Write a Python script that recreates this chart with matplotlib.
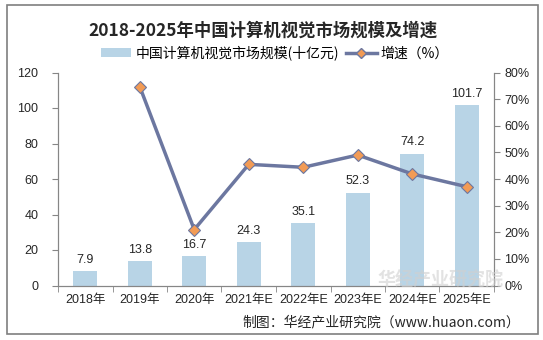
import matplotlib.pyplot as plt
from matplotlib.patches import Rectangle
from matplotlib.lines import Line2D
from matplotlib.patches import Patch

plt.rcParams['font.family'] = ['Liberation Sans', 'Noto Sans CJK SC', 'DejaVu Sans']

years = ['2018年', '2019年', '2020年', '2021年E', '2022年E', '2023年E', '2024年E', '2025年E']
market_size = [7.9, 13.8, 16.7, 24.3, 35.1, 52.3, 74.2, 101.7]
growth = [None, 74.7, 21.0, 45.5, 44.4, 49.0, 41.9, 37.1]

bar_color = '#b8d4e6'
line_color = '#6c77a0'
marker_color = '#f29b55'
axis_color = '#868686'
text_color = '#262626'
cjk = ['Noto Sans CJK SC', 'DejaVu Sans']

fig = plt.figure(figsize=(5.43, 3.40), dpi=100)
fig.patches.append(Rectangle((7 / 543, 1 - 334 / 340), 531 / 543, 329 / 340,
                             transform=fig.transFigure, fill=False,
                             edgecolor='#7f7f7f', linewidth=1.2))

ax = fig.add_axes([58 / 543, 1 - 285.5 / 340, 436 / 543, 213 / 340])
x = list(range(len(years)))
ax.bar(x, market_size, width=0.44, color=bar_color, zorder=2)
for xi, v in zip(x, market_size):
    ax.text(xi, v + 3, f'{v}', ha='center', va='bottom', fontsize=9, color=text_color)

ax.set_xlim(-0.5, len(years) - 0.5)
ax.set_ylim(0, 120)
ax.set_yticks(range(0, 121, 20))
ax.set_xticks(x)
ax.set_xticklabels(years, fontsize=9, color=text_color)
ax.set_xticks([i - 0.5 for i in range(len(years) + 1)], minor=True)
ax.tick_params(axis='x', which='major', length=0, pad=6)
ax.tick_params(axis='x', which='minor', length=4, color=axis_color, direction='out')
ax.tick_params(axis='y', length=4, color=axis_color, labelsize=9, labelcolor=text_color, pad=10)
ax.spines['top'].set_visible(False)
for s in ['left', 'bottom', 'right']:
    ax.spines[s].set_color(axis_color)

ax2 = ax.twinx()
gx = [xi for xi, g in zip(x, growth) if g is not None]
gy = [g for g in growth if g is not None]
ax2.plot(gx, gy, color=line_color, linewidth=2.5, marker='D', markersize=6,
         markerfacecolor=marker_color, markeredgecolor=line_color, markeredgewidth=0.8, zorder=3)
ax2.set_ylim(0, 80)
ax2.set_yticks(range(0, 81, 10))
ax2.set_yticklabels([f'{t}%' for t in range(0, 81, 10)])
ax2.tick_params(axis='y', length=4, color=axis_color, labelsize=9, labelcolor=text_color)
ax2.spines['top'].set_visible(False)
for s in ['left', 'bottom', 'right']:
    ax2.spines[s].set_color(axis_color)

fig.text(0.484, 1 - 31 / 340, '2018-2025年中国计算机视觉市场规模及增速', ha='center', va='center',
         fontsize=12.5, fontweight='bold', color=text_color, family=cjk)

handles = [Patch(facecolor=bar_color, edgecolor='none'),
           Line2D([0], [0], color=line_color, linewidth=2.5, marker='D', markersize=5,
                  markerfacecolor=marker_color, markeredgecolor=line_color)]
fig.legend(handles, ['中国计算机视觉市场规模(十亿元)', '增速（%）'], loc='center',
           bbox_to_anchor=(275 / 543, 1 - 53 / 340), ncol=2, frameon=False,
           handlelength=2.2, handleheight=0.6, columnspacing=0.5, handletextpad=0.3,
           prop={'family': cjk, 'size': 10})

fig.text(520 / 543, 1 - 322 / 340, '制图：华经产业研究院（www.huaon.com）', ha='right', va='center',
         fontsize=10, color=text_color, family=cjk)

fig.text(503 / 543, 1 - 280 / 340, '华经产业研究院', ha='right', va='center', fontsize=13,
         fontweight='bold', color='#d0d0d0', alpha=0.6, zorder=0, family=cjk)

fig.savefig('out.png', dpi=100)
